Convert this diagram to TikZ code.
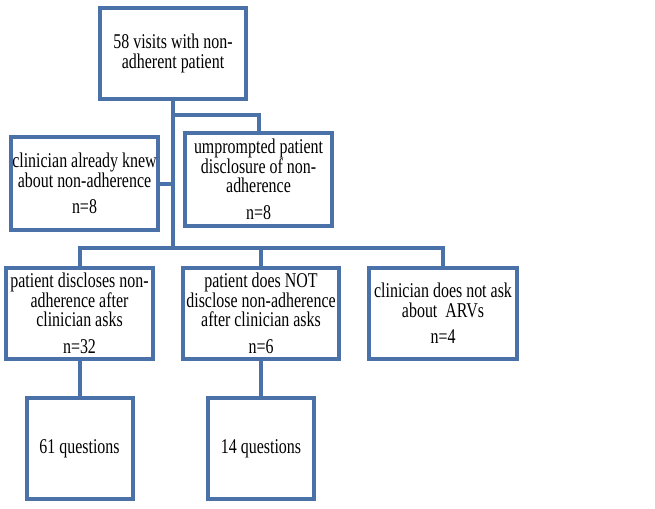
\documentclass[tikz,border=0pt]{standalone}
\usepackage{fontspec}
\setmainfont{Liberation Serif}[FakeStretch=0.76]
\definecolor{boxblue}{RGB}{74,114,168}
\begin{document}
\begin{tikzpicture}[x=1pt,y=-1pt,
  box/.style={draw=boxblue,line width=4pt,fill=white,inner sep=0pt,align=center,
    font=\fontsize{21}{19.5}\selectfont,text=black},
  link/.style={draw=boxblue,line width=4pt}]
\useasboundingbox[fill=white] (0,0) rectangle (655,508);
\node[box,minimum width=146pt,minimum height=91pt] (top) at (173,53.5) {58 visits with non-\\adherent patient};
\node[box,minimum width=147pt,minimum height=93pt] (knew) at (84.5,183.5) {clinician already knew\\about non-adherence\\[7pt]n=8};
\node[box,minimum width=147pt,minimum height=93pt] (unp) at (258.5,179.5) {umprompted patient\\disclosure of non-\\adherence\\[7pt]n=8};
\node[box,minimum width=147pt,minimum height=91pt] (b1) at (79.5,313.5) {patient discloses non-\\adherence after\\clinician asks\\[7pt]n=32};
\node[box,minimum width=156pt,minimum height=91pt] (b2) at (261,313.5) {patient does NOT\\disclose non-adherence\\after clinician asks\\[7pt]n=6};
\node[box,minimum width=148pt,minimum height=91pt] (b3) at (443,313.5) {clinician does not ask\\about~ ARVs\\[7pt]n=4};
\node[box,minimum width=106pt,minimum height=101pt] (q1) at (79.5,448.5) {61 questions};
\node[box,minimum width=106pt,minimum height=101pt] (q2) at (261,448.5) {14 questions};
\coordinate (j0) at (173,115);
\coordinate (bar) at (173,248);
\draw[link] (top.south) -- (bar);
\draw[link] (j0) -| (unp.north);
\draw[link] (knew.east) -- (knew.east -| top.south);
\draw[link] (b1.north) |- (bar) -| (b3.north);
\draw[link] (b2.north) -- (b2.north |- bar);
\draw[link] (b1.south) -- (q1.north);
\draw[link] (b2.south) -- (q2.north);
\end{tikzpicture}
\end{document}
